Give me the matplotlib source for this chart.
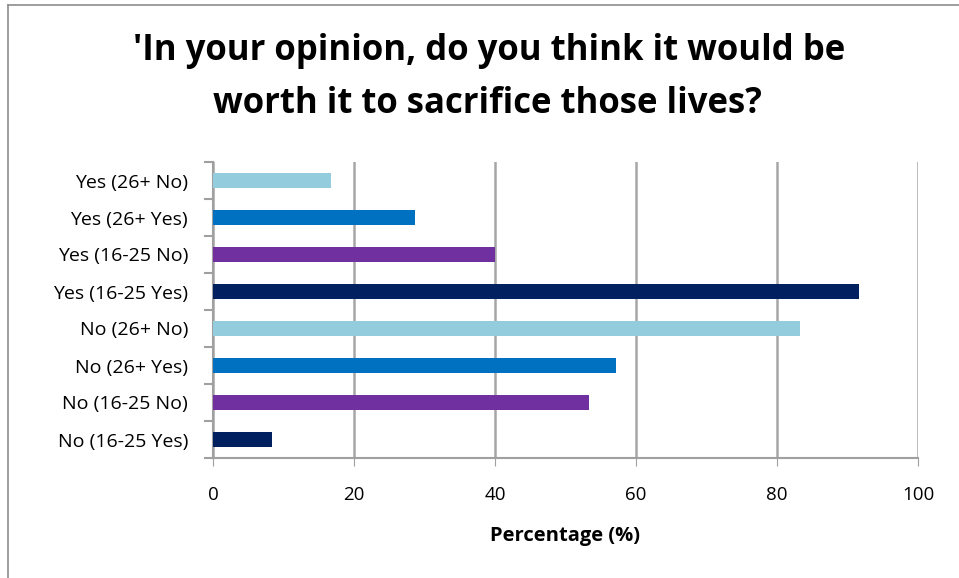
import numpy as np
import matplotlib.pyplot as plt
from matplotlib.lines import Line2D

# bottom to top, as drawn on the y axis
labels = ['No (16-25 Yes)', 'No (16-25 No)', 'No (26+ Yes)', 'No (26+ No)',
          'Yes (16-25 Yes)', 'Yes (16-25 No)', 'Yes (26+ Yes)', 'Yes (26+ No)']
values = [8.3, 53.3, 57.1, 83.3, 91.7, 40.0, 28.6, 16.7]
colors = ['#002060', '#7030A0', '#0070C0', '#93CDDD',
          '#002060', '#7030A0', '#0070C0', '#93CDDD']
xticks = [0, 20, 40, 60, 80, 100]

plt.rcParams['font.family'] = ['Open Sans', 'DejaVu Sans']

fig = plt.figure(figsize=(9.59, 5.78), dpi=100)
ax = fig.add_axes([213 / 959, 120 / 578, 705 / 959, 296 / 578])

y = np.arange(len(labels))
ax.barh(y, values, height=0.4, color=colors, zorder=3)

ax.set_xlim(0, 100)
ax.set_ylim(-0.5, len(labels) - 0.5)
ax.set_xticks(xticks)
ax.set_xticklabels([str(t) for t in xticks], fontsize=13.5)
ax.set_yticks(y)
ax.set_yticklabels(labels, fontsize=14)
ax.tick_params(axis='y', length=0, pad=18)
ax.tick_params(axis='x', length=6, color='#A0A0A0', pad=14)

# category separators on the y axis
for b in np.arange(-0.5, len(labels), 1.0):
    ax.plot([-1.1, 0], [b, b], color='#A0A0A0', lw=1.5, clip_on=False, zorder=4)

ax.grid(axis='x', color='#A6A6A6', lw=1.8, zorder=0)
for s in ['top', 'right']:
    ax.spines[s].set_visible(False)
for s in ['left', 'bottom']:
    ax.spines[s].set_color('#A0A0A0')
    ax.spines[s].set_linewidth(1.5)

ax.set_xlabel('Percentage (%)', fontsize=14.5, fontweight='bold', labelpad=16)

fig.text(0.51, 0.912, "'In your opinion, do you think it would be", ha='center', va='center',
         fontsize=25, fontweight='bold')
fig.text(0.508, 0.82, "worth it to sacrifice those lives?", ha='center', va='center',
         fontsize=25, fontweight='bold')

# chart frame (top and left edges visible)
fig.add_artist(Line2D([8 / 959, 8 / 959], [0, 1 - 5 / 578], transform=fig.transFigure,
                      color='#8C8C8C', lw=1.2))
fig.add_artist(Line2D([8 / 959, 1], [1 - 5 / 578, 1 - 5 / 578], transform=fig.transFigure,
                      color='#8C8C8C', lw=1.2))

fig.savefig('out.png', dpi=100)
